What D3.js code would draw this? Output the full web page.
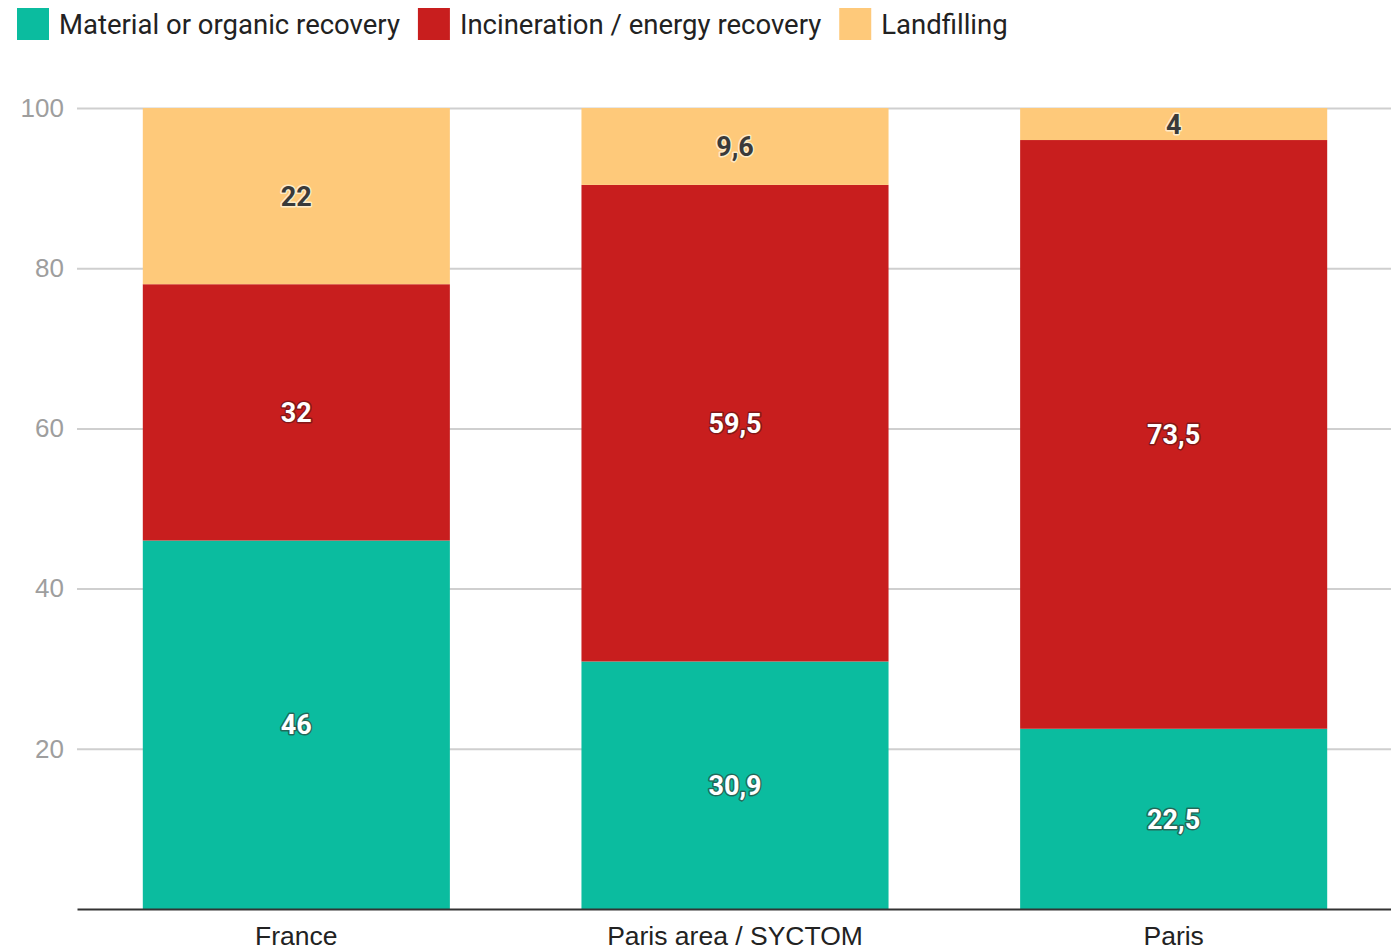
<!DOCTYPE html>
<html>
<head>
<meta charset="utf-8">
<script src="https://cdn.jsdelivr.net/npm/d3@7"></script>
<style>
  html, body { margin: 0; padding: 0; background: #fff; }
  svg { display: block; font-family: Roboto, "Noto Sans", sans-serif; }
</style>
</head>
<body>
<svg id="chart" width="1391" height="950"></svg>
<script>
const categories = ["France", "Paris area / SYCTOM", "Paris"];
const seriesNames = ["Material or organic recovery", "Incineration / energy recovery", "Landfilling"];
const material = [46, 30.9, 22.5];
const incineration = [32, 59.5, 73.5];
const landfilling = [22, 9.6, 4];
const yTicks = [20, 40, 60, 80, 100];
const colors = ["#0bbc9f", "#c81e1e", "#fec97a"];

const seriesValues = [material, incineration, landfilling];
const rows = categories.map((c, i) => {
  const r = { category: c, index: i };
  seriesNames.forEach((s, k) => r[s] = seriesValues[k][i]);
  return r;
});

const svg = d3.select("#chart");
const margin = { left: 77, right: -2, top: 108, bottom: 41 };
const W = 1391, H = 950;

const x = d3.scaleBand().domain(categories)
  .range([margin.left, W - margin.right])
  .paddingInner(0.3).paddingOuter(0.15);
const y = d3.scaleLinear().domain([0, 100]).range([H - margin.bottom, margin.top]);

// gridlines + y labels
const yAxis = svg.append("g")
  .attr("transform", `translate(${margin.left},0)`)
  .call(d3.axisLeft(y).tickValues(yTicks).tickSize(-(W - margin.left)).tickPadding(13));
yAxis.select(".domain").remove();
yAxis.selectAll(".tick line").attr("stroke", "#cfcfcf").attr("stroke-width", 2);
yAxis.selectAll(".tick text").attr("fill", "#9e9e9e").attr("font-size", 26);

// stacked bars
const stack = d3.stack().keys(seriesNames)(rows);
const layers = svg.append("g").selectAll("g").data(stack).join("g")
  .attr("fill", (d, i) => colors[i]);
layers.selectAll("rect").data(d => d).join("rect")
  .attr("x", d => x(d.data.category))
  .attr("width", x.bandwidth())
  .attr("y", d => y(d[1]))
  .attr("height", d => y(d[0]) - y(d[1]));

// value labels, taken from the series arrays
stack.forEach((layer, k) => {
  const dark = k === 2;
  const g = svg.append("g");
  layer.forEach(d => {
    const v = seriesValues[k][d.data.index];
    const t = String(v).replace(".", ",");
    const cx = x(d.data.category) + x.bandwidth() / 2;
    const cy = y((d[0] + d[1]) / 2);
    g.append("text")
      .attr("x", cx).attr("y", cy).attr("dy", "0.36em")
      .attr("text-anchor", "middle")
      .attr("font-size", 27).attr("font-weight", "bold")
      .attr("fill", dark ? "#3a3a3a" : "#ffffff")
      .attr("stroke", dark ? "rgba(255,240,210,0.9)" : "rgba(60,20,20,0.5)")
      .attr("stroke-width", 3).attr("paint-order", "stroke")
      .attr("stroke-linejoin", "round")
      .text(t);
  });
});

// baseline and category labels
const xAxis = svg.append("g")
  .attr("transform", `translate(0,${H - margin.bottom})`)
  .call(d3.axisBottom(x).tickSize(0).tickPadding(17));
xAxis.select(".domain").attr("stroke", "#333").attr("stroke-width", 2);
xAxis.selectAll(".tick text").attr("fill", "#222").attr("font-size", 26.5);

// legend
const legend = svg.append("g").attr("transform", "translate(17,8)");
let lx = 0;
seriesNames.forEach((s, i) => {
  const item = legend.append("g").attr("transform", `translate(${lx},0)`);
  item.append("rect").attr("width", 32).attr("height", 32).attr("fill", colors[i]);
  const tx = item.append("text").attr("x", 42).attr("y", 16).attr("dy", "0.35em")
    .attr("font-size", 27.5).attr("fill", "#222").text(s);
  lx += 42 + tx.node().getComputedTextLength() + 18;
});
</script>
</body>
</html>
